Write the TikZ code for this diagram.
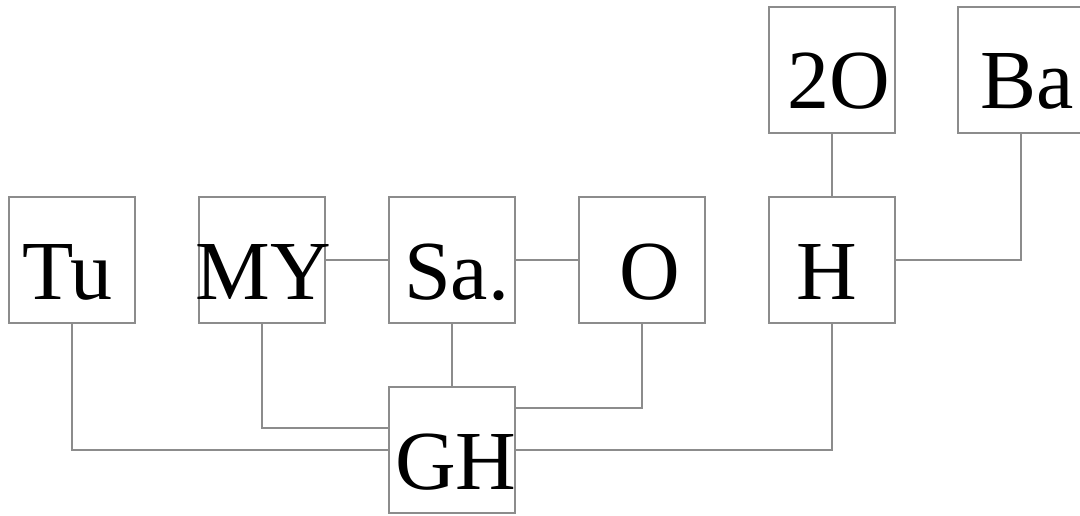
\documentclass[tikz,border=0pt]{standalone}
\usepackage{fontspec}
\setmainfont{Liberation Serif}
\usepackage{tikz}

\definecolor{linegray}{gray}{0.55}

\tikzset{
    blk/.style={draw=linegray, line width=1.2pt, minimum size=126pt, inner sep=0pt,
        text height=78pt, text depth=0pt, font=\fontsize{84}{84}\selectfont},
    wire/.style={draw=linegray, line width=1.2pt}
}

\begin{document}
\begin{tikzpicture}[x=1pt, y=-1pt]
\useasboundingbox (0,0) rectangle (1080,516);
\foreach \id/\txt/\x/\y/\dd in {
    tu/Tu/72/260/-9,
    my/MY/262/260/2,
    sa/Sa./452/260/9,
    o/O/642/260/15,
    h/H/832/260/-10,
    twoo/2O/832/70/14,
    ba/Ba/1021/70/12,
    gh/GH/452/450/8
} {
    \node[blk] (\id) at (\x,\y) {\makebox[0pt]{\kern\dd pt\txt}};
}
\draw[wire] (my.east) -- (sa.west);
\draw[wire] (sa.east) -- (o.west);
\draw[wire] (twoo.south) -- (h.north);
\draw[wire] (h.east) -| (ba.south);
\draw[wire] (tu.south) |- (gh.west);
\draw[wire] (my.south) |- ([yshift=22pt]gh.west);
\draw[wire] (sa.south) -- (gh.north);
\draw[wire] (o.south) |- ([yshift=42pt]gh.east);
\draw[wire] (h.south) |- (gh.east);
\end{tikzpicture}
\end{document}
